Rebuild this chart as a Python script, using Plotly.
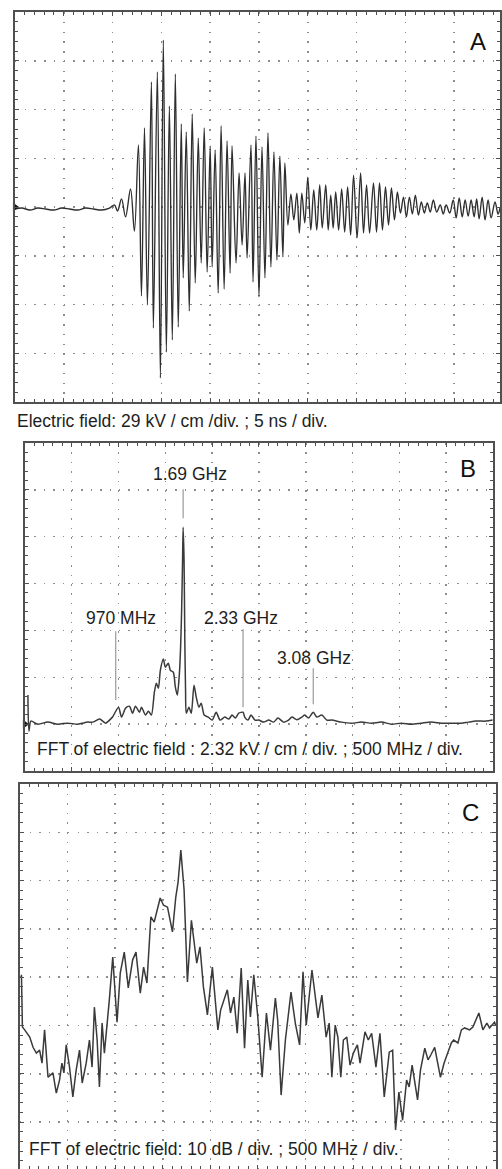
import plotly.graph_objects as go

W, H = 502, 1169

# ---------------------------------------------------------------------------
# Panel A: electric field vs time (5 ns/div, 29 kV/cm/div)
# ---------------------------------------------------------------------------
a_time_ns = [
    0.00, 0.71, 1.53, 2.35, 3.16, 3.98, 4.80, 5.61, 6.43, 7.24, 8.06, 8.88, 9.69,
    10.20, 10.51, 10.92, 11.33, 11.84, 12.24, 12.65, 12.96, 13.27, 13.57, 13.98, 14.18,
    14.59, 14.90, 15.20, 15.51, 15.82, 16.12, 16.43, 16.73, 17.04, 17.24, 17.55, 17.86,
    18.16, 18.47, 18.78, 19.08, 19.39, 19.69, 20.00, 20.20, 20.51, 20.82, 21.12, 21.43,
    21.73, 22.04, 22.24, 22.65, 22.96, 23.27, 23.57, 23.78, 24.18, 24.39, 24.69, 25.00,
    25.31, 25.61, 25.92, 26.22, 26.53, 26.84, 27.14, 27.45, 27.65, 27.96, 28.27, 28.57,
    28.88, 29.13, 29.39, 29.69, 30.00, 30.31, 30.61, 30.92, 31.22, 31.48, 31.84, 32.09,
    32.35, 32.60, 32.86, 33.16, 33.47, 33.78, 34.08, 34.39, 34.69, 35.05, 35.41, 35.71,
    36.02, 36.33, 36.73, 37.04, 37.35, 37.65, 37.96, 38.27, 38.57, 38.88, 39.18, 39.49,
    39.80, 40.10, 40.41, 40.71, 41.02, 41.33, 41.63, 41.94, 42.24, 42.55, 42.86, 43.21,
    43.57, 43.88, 44.18, 44.54, 44.90, 45.20, 45.51, 45.82, 46.12, 46.43, 46.73, 47.04,
    47.30, 47.55, 47.86, 48.16, 48.47, 48.78, 49.18, 49.49, 49.69,
]
a_field_kv_cm = [
    -1.2, -0.6, -1.8, -0.6, -1.2, -1.8, -0.6, -1.2, -1.8, -0.6, -1.2, -1.8, -0.6,
    1.2, -2.4, 4.8, -5.9, 10.7, -14.3, 36.9, -52.9, 47.0, -58.3, 74.4, -72.0,
    80.3, -101.7, 99.3, -86.3, 60.1, -79.1, 79.1, -71.4, 49.4, -42.2, 44.6, -61.9,
    55.3, -45.2, 41.0, -33.3, 47.0, -38.7, 36.3, -35.7, 33.9, -51.2, 48.2, -48.8,
    39.3, -39.3, 36.3, -33.3, 20.2, -22.6, 20.2, -30.3, 36.9, -44.6, 42.2, -53.5,
    35.7, -42.2, 44.0, -35.7, 32.7, -31.5, 30.3, -29.7, 26.2, -10.7, 7.7, -7.7,
    8.3, -15.5, 8.3, -9.5, 17.8, -13.7, 10.1, -13.7, 13.1, -12.5, 13.1, -13.7,
    7.1, -12.5, 8.9, -13.7, 10.7, -14.9, 11.9, -16.7, 19.0, -18.4, 20.2, -15.5,
    13.1, -15.5, 14.3, -14.9, 14.3, -13.7, 11.9, -10.7, 11.3, -7.7, 8.9, -3.6,
    5.9, -5.9, 5.9, -4.2, 7.1, -4.8, 3.0, -3.6, 2.4, -3.0, 4.2, -3.0,
    1.2, -4.2, 1.2, -3.6, 4.2, -6.5, 5.4, -5.9, 4.2, -5.4, 4.2, -5.9,
    4.8, -7.1, 5.9, -7.7, 4.2, -6.5, 3.0, -4.2, -0.6,
]

# ---------------------------------------------------------------------------
# Panel B: FFT magnitude (500 MHz/div, 2.32 kV/cm/div)
# ---------------------------------------------------------------------------
b_freq_mhz = [
    32, 43, 64, 138, 245, 351, 458, 564, 670, 724, 798, 862, 915, 936, 1000, 1032,
    1075, 1117, 1149, 1181, 1224, 1245, 1288, 1319, 1351, 1383, 1404, 1426, 1447,
    1479, 1500, 1532, 1553, 1585, 1607, 1628, 1649, 1663, 1674, 1684, 1690, 1700,
    1708, 1716, 1724, 1752, 1777, 1806, 1830, 1859, 1883, 1915, 1958, 2000, 2043,
    2085, 2135, 2178, 2213, 2248, 2284, 2330, 2348, 2383, 2415, 2458, 2497, 2550,
    2604, 2657, 2703, 2763, 2816, 2852, 2905, 2958, 2990, 3029, 3080, 3118, 3171,
    3224, 3277, 3384, 3490, 3596, 3703, 3809, 3916, 4022, 4128, 4235, 4341, 4448,
    4554, 4660, 4734, 4820, 4926, 4995,
]
b_amp_kv_cm = [
    1.44, -0.35, 0.15, 0.00, 0.10, 0.00, 0.05, 0.00, 0.10, 0.10, 0.25, 0.05, 0.25,
    0.35, 0.84, 0.35, 0.79, 0.89, 0.54, 0.89, 0.59, 0.84, 0.45, 0.64, 0.45, 1.58,
    2.03, 1.78, 2.67, 3.22, 2.82, 3.02, 2.67, 2.57, 1.83, 1.44, 2.43, 3.81, 5.64,
    8.12, 9.75, 8.12, 4.16, 1.68, 0.54, 0.84, 0.54, 1.93, 1.34, 0.84, 1.04, 0.45,
    0.35, 0.20, 0.59, 0.20, 0.35, 0.25, 0.45, 0.30, 0.54, 0.59, 0.35, 0.20, 0.45,
    0.20, 0.20, 0.10, 0.20, 0.10, 0.30, 0.10, 0.20, 0.35, 0.22, 0.35, 0.45, 0.30,
    0.59, 0.35, 0.45, 0.20, 0.20, 0.10, 0.05, 0.10, 0.05, 0.10, 0.00, 0.05, 0.00,
    0.05, 0.10, 0.05, 0.05, 0.05, 0.10, 0.15, 0.15, 0.20,
]
b_peak_freq_mhz = [970, 1690, 2330, 3080]
b_peak_labels = ["970 MHz", "1.69 GHz", "2.33 GHz", "3.08 GHz"]

# ---------------------------------------------------------------------------
# Panel C: FFT in dB (500 MHz/div, 10 dB/div)
# ---------------------------------------------------------------------------
c_freq_mhz = [
    16, 26, 50, 103, 138, 173, 207, 232, 259, 295, 347, 382, 416, 441, 462, 486,
    521, 556, 591, 626, 654, 696, 730, 758, 782, 811, 835, 863, 887, 915, 939, 975,
    1020, 1054, 1096, 1138, 1184, 1219, 1264, 1299, 1334, 1375, 1410, 1473, 1508,
    1550, 1602, 1637, 1661, 1690, 1724, 1759, 1801, 1857, 1891, 1927, 1969, 2021,
    2079, 2108, 2142, 2178, 2212, 2247, 2282, 2324, 2359, 2393, 2421, 2456, 2498,
    2544, 2589, 2631, 2683, 2707, 2743, 2788, 2847, 2892, 2937, 2973, 3007, 3067,
    3130, 3171, 3216, 3248, 3276, 3311, 3339, 3370, 3397, 3433, 3467, 3502, 3544,
    3572, 3624, 3659, 3694, 3739, 3781, 3826, 3879, 3914, 3945, 3980, 4019, 4061,
    4088, 4119, 4176, 4207, 4252, 4286, 4315, 4356, 4416, 4454, 4496, 4531, 4555,
    4600, 4636, 4670, 4723, 4757, 4820, 4862, 4904, 4932, 4984, 4995,
]
c_level_db = [
    -39.5, -50.3, -50.9, -52.4, -54.5, -55.7, -55.1, -57.8, -50.9, -60.7, -59.8,
    -64.0, -61.3, -57.8, -59.8, -54.0, -58.6, -64.8, -59.2, -55.1, -61.9, -57.8,
    -53.0, -58.6, -46.2, -53.0, -62.7, -49.5, -55.7, -50.3, -44.7, -35.8, -49.3,
    -39.1, -34.8, -42.2, -36.4, -34.8, -43.3, -37.9, -41.2, -27.5, -28.6, -23.6,
    -25.1, -25.5, -30.6, -23.4, -20.3, -13.7, -21.9, -41.0, -28.2, -37.1, -33.7,
    -42.0, -47.8, -37.9, -50.9, -46.8, -44.7, -42.6, -47.4, -44.1, -51.6, -38.1,
    -54.7, -40.6, -48.2, -39.5, -48.2, -60.7, -47.4, -55.1, -44.3, -48.9, -64.4,
    -53.0, -43.1, -49.5, -54.0, -38.9, -49.9, -38.5, -48.4, -43.7, -52.4, -49.5,
    -60.7, -49.9, -52.4, -60.7, -53.0, -52.4, -58.2, -55.7, -54.0, -57.8, -51.3,
    -53.0, -51.6, -58.6, -51.6, -64.8, -55.5, -55.1, -71.6, -63.8, -69.6, -61.3,
    -62.7, -58.2, -65.4, -59.2, -54.7, -57.1, -56.1, -54.5, -60.7, -57.8, -55.5,
    -53.6, -53.0, -53.6, -50.9, -50.5, -50.9, -50.3, -47.4, -50.9, -49.5, -50.5,
    -49.3, -49.9,
]

# ---------------------------------------------------------------------------
# Styling
# ---------------------------------------------------------------------------
FONT = "Liberation Sans, Arial, sans-serif"
TEXT = "#1e1e1e"
FRAME = "#505050"
GRID = "#8c8c8c"
TRACE = "#2e2e2e"


def px_x(p):
    return p / W


def px_y(p):
    return 1 - p / H


def scope_axis(domain, rng, dtick, minor, anchor, dash, tick0=0):
    return dict(
        domain=domain, range=rng, dtick=dtick, tick0=tick0, anchor=anchor,
        showgrid=True, gridcolor=GRID, gridwidth=1.5, griddash=dash,
        showline=True, linecolor=FRAME, linewidth=1.6, mirror="allticks",
        ticks="inside", ticklen=4, tickcolor=FRAME, tickwidth=1,
        minor=dict(dtick=minor, tick0=tick0, ticks="inside", ticklen=3,
                   tickcolor=FRAME, tickwidth=1, showgrid=False),
        showticklabels=False, zeroline=False, fixedrange=True,
    )


fig = go.Figure()

fig.add_trace(go.Scatter(
    x=a_time_ns, y=a_field_kv_cm, mode="lines", xaxis="x", yaxis="y",
    line=dict(color=TRACE, width=1.35, shape="spline", smoothing=1.0),
    showlegend=False, hoverinfo="skip",
))
fig.add_trace(go.Scatter(
    x=b_freq_mhz, y=b_amp_kv_cm, mode="lines", xaxis="x2", yaxis="y2",
    line=dict(color="#3a3a3a", width=1.5, shape="spline", smoothing=0.7),
    showlegend=False, hoverinfo="skip",
))
fig.add_trace(go.Scatter(
    x=c_freq_mhz, y=c_level_db, mode="lines", xaxis="x3", yaxis="y3",
    line=dict(color="#3a3a3a", width=1.5),
    showlegend=False, hoverinfo="skip",
))

# ground-reference markers on the left edge of the scope screens
fig.add_trace(go.Scatter(
    x=[0], y=[0], mode="markers", xaxis="x", yaxis="y", cliponaxis=False,
    marker=dict(symbol="triangle-right", size=8, color="#111"),
    showlegend=False, hoverinfo="skip",
))
fig.add_trace(go.Scatter(
    x=[0], y=[0], mode="markers", xaxis="x2", yaxis="y2", cliponaxis=False,
    marker=dict(symbol="triangle-right", size=8, color="#111"),
    showlegend=False, hoverinfo="skip",
))

# peak markers and labels in panel B
b_line_spans = [(1.19, 4.60), (10.20, 11.63), (0.84, 4.70), (0.99, 2.77)]
b_label_y = [5.25, 12.38, 5.25, 3.27]
b_label_shift = [5, 7, -2, 1]
shapes = []
annotations = []
for f, (y0, y1), ly, sh, txt in zip(b_peak_freq_mhz, b_line_spans, b_label_y,
                                    b_label_shift, b_peak_labels):
    shapes.append(dict(type="line", xref="x2", yref="y2", x0=f, x1=f, y0=y0, y1=y1,
                       line=dict(color="#9a9a9a", width=1.2)))
    annotations.append(dict(xref="x2", yref="y2", x=f, y=ly, text=txt, showarrow=False,
                            xshift=sh, font=dict(family=FONT, size=17.5, color=TEXT)))

# panel letters
for letter, (lx, ly) in zip(["A", "B", "C"], [(480, 42), (470, 468), (472, 812)]):
    annotations.append(dict(xref="paper", yref="paper", x=px_x(lx), y=px_y(ly),
                            text=letter, showarrow=False, xanchor="center", yanchor="middle",
                            font=dict(family=FONT, size=24, color="#111")))

# captions
captions = [
    ("Electric field: 29 kV / cm /div. ; 5 ns / div.", 15, 421),
    ("FFT of electric field : 2.32 kV / cm / div. ; 500 MHz / div.", 35, 749),
    ("FFT of electric field: 10 dB / div. ; 500 MHz / div.", 27, 1149),
]
for txt, cx, cy in captions:
    annotations.append(dict(xref="paper", yref="paper", x=px_x(cx), y=px_y(cy), text=txt,
                            showarrow=False, xanchor="left", yanchor="middle",
                            font=dict(family=FONT, size=17.5, color=TEXT)))

fig.update_layout(
    width=W, height=H, autosize=False,
    margin=dict(l=0, r=0, t=0, b=0, pad=0),
    paper_bgcolor="white", plot_bgcolor="white",
    hovermode=False, showlegend=False,
    xaxis=scope_axis([px_x(15), 1.0], [0, 49.69], 5, 1, "y", "1.5px,8.25px"),
    yaxis=scope_axis([px_y(402), px_y(12)], [-116, 116], 29, 5.8, "x", "1.5px,8.25px"),
    xaxis2=scope_axis([px_x(25), px_x(495)], [0, 5000], 500, 100, "y2", "1.5px,7.9px"),
    yaxis2=scope_axis([px_y(771), px_y(443)], [-2.32, 13.92], 2.32, 0.464, "x2", "1.5px,7.9px"),
    xaxis3=scope_axis([px_x(20), px_x(498)], [0, 5000], 500, 100, "y3", "1.5px,8.1px"),
    yaxis3=scope_axis([0.0, px_y(784)], [-79.7, 0], 10, 2, "x3", "1.5px,8.1px"),
    shapes=shapes,
    annotations=annotations,
)

fig.write_html("out.html", config={"displayModeBar": False, "staticPlot": True})
